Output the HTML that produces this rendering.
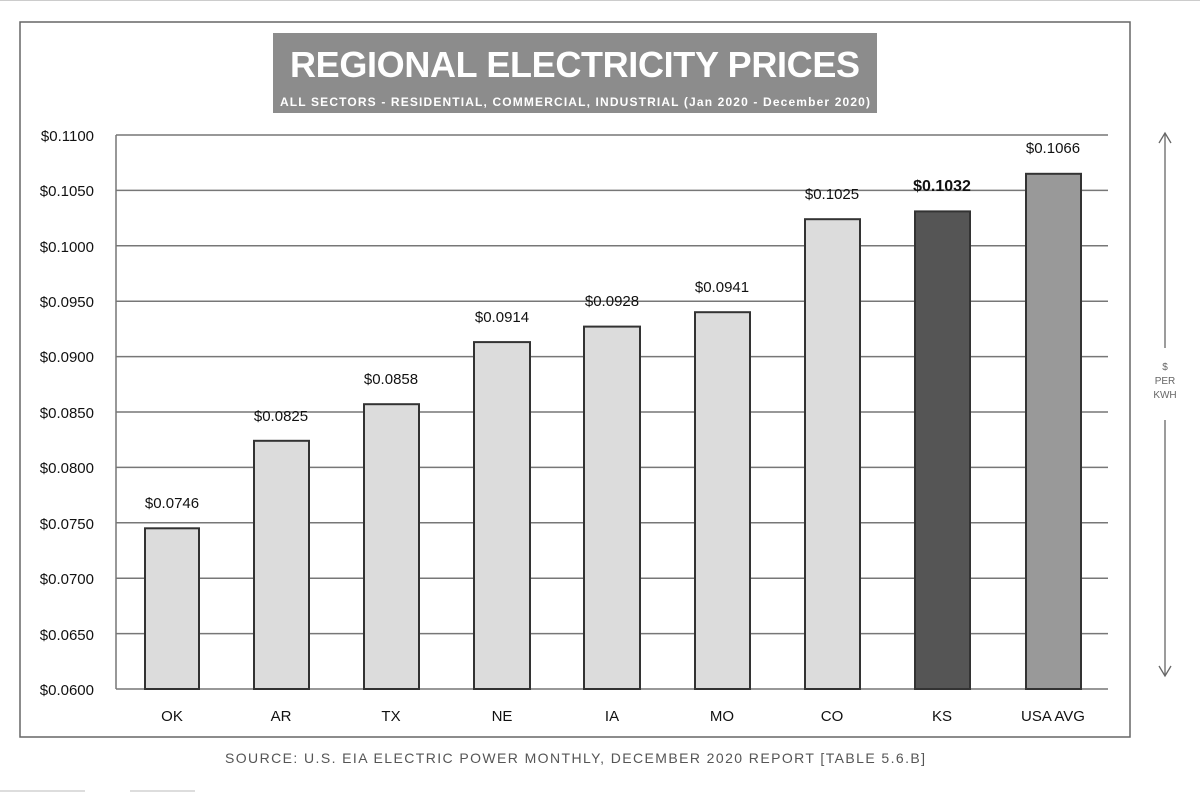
<!DOCTYPE html>
<html><head><meta charset="utf-8"><style>
html,body{margin:0;padding:0;background:#fff;width:1200px;height:792px;overflow:hidden}
svg{display:block}
text{font-family:"Liberation Sans",sans-serif}
</style></head><body>
<svg width="1200" height="792" viewBox="0 0 1200 792" xmlns="http://www.w3.org/2000/svg">
<line x1="0" y1="0.5" x2="1200" y2="0.5" stroke="#ccc"/>
<rect x="20" y="22" width="1110" height="715" fill="#fff" stroke="#666" stroke-width="1.5"/>
<rect x="273" y="33" width="604" height="80" fill="#8c8c8c"/>
<text x="575" y="77" text-anchor="middle" font-size="36" font-weight="bold" fill="#fff" textLength="570">REGIONAL ELECTRICITY PRICES</text>
<text x="575" y="106" text-anchor="middle" font-size="12" font-weight="bold" fill="#fff" textLength="590">ALL SECTORS - RESIDENTIAL, COMMERCIAL, INDUSTRIAL (Jan 2020 - December 2020)</text>
<g stroke="#777" stroke-width="1.5">
<line x1="116" y1="135" x2="1108" y2="135"/><line x1="116" y1="190.4" x2="1108" y2="190.4"/>
<line x1="116" y1="245.8" x2="1108" y2="245.8"/><line x1="116" y1="301.2" x2="1108" y2="301.2"/>
<line x1="116" y1="356.6" x2="1108" y2="356.6"/><line x1="116" y1="412" x2="1108" y2="412"/>
<line x1="116" y1="467.4" x2="1108" y2="467.4"/><line x1="116" y1="522.8" x2="1108" y2="522.8"/>
<line x1="116" y1="578.2" x2="1108" y2="578.2"/><line x1="116" y1="633.6" x2="1108" y2="633.6"/>
<line x1="116" y1="689" x2="1108" y2="689"/><line x1="116" y1="135" x2="116" y2="689"/>
</g>
<g font-size="15" fill="#111" text-anchor="end">
<text x="94" y="141">$0.1100</text><text x="94" y="196">$0.1050</text><text x="94" y="252">$0.1000</text>
<text x="94" y="307">$0.0950</text><text x="94" y="362">$0.0900</text><text x="94" y="418">$0.0850</text>
<text x="94" y="473">$0.0800</text><text x="94" y="529">$0.0750</text><text x="94" y="584">$0.0700</text>
<text x="94" y="640">$0.0650</text><text x="94" y="695">$0.0600</text>
</g>
<g stroke="#333" stroke-width="2">
<rect x="145" y="528.3" width="54" height="160.7" fill="#dcdcdc"/>
<rect x="254" y="440.8" width="55" height="248.2" fill="#dcdcdc"/>
<rect x="364" y="404.2" width="55" height="284.8" fill="#dcdcdc"/>
<rect x="474" y="342.1" width="56" height="346.9" fill="#dcdcdc"/>
<rect x="584" y="326.6" width="56" height="362.4" fill="#dcdcdc"/>
<rect x="695" y="312.2" width="55" height="376.8" fill="#dcdcdc"/>
<rect x="805" y="219.2" width="55" height="469.8" fill="#dcdcdc"/>
<rect x="915" y="211.4" width="55" height="477.6" fill="#555"/>
<rect x="1026" y="173.8" width="55" height="515.2" fill="#999"/>
</g>
<g font-size="15" fill="#111" text-anchor="middle">
<text x="172" y="508">$0.0746</text><text x="281" y="421">$0.0825</text><text x="391" y="384">$0.0858</text>
<text x="502" y="322">$0.0914</text><text x="612" y="306">$0.0928</text><text x="722" y="292">$0.0941</text>
<text x="832" y="199">$0.1025</text><text x="942" y="191" font-weight="bold" font-size="16">$0.1032</text><text x="1053" y="153">$0.1066</text>
</g>
<g font-size="15" fill="#111" text-anchor="middle">
<text x="172" y="721">OK</text><text x="281" y="721">AR</text><text x="391" y="721">TX</text>
<text x="502" y="721">NE</text><text x="612" y="721">IA</text><text x="722" y="721">MO</text>
<text x="832" y="721">CO</text><text x="942" y="721">KS</text><text x="1053" y="721">USA AVG</text>
</g>
<text x="575" y="763" text-anchor="middle" font-size="14" fill="#555" textLength="700">SOURCE: U.S. EIA ELECTRIC POWER MONTHLY, DECEMBER 2020 REPORT [TABLE 5.6.B]</text>
<g stroke="#666" stroke-width="1.3" fill="none">
<line x1="1165" y1="133" x2="1165" y2="348"/><line x1="1165" y1="420" x2="1165" y2="676"/>
<polyline points="1159,143 1165,133 1171,143"/><polyline points="1159,666 1165,676 1171,666"/>
</g>
<g font-size="10" fill="#666" text-anchor="middle">
<text x="1165" y="370">$</text><text x="1165" y="384">PER</text><text x="1165" y="398">KWH</text>
</g>
<line x1="0" y1="791" x2="85" y2="791" stroke="#bbb"/><line x1="130" y1="791" x2="195" y2="791" stroke="#bbb"/>
</svg>
</body></html>
